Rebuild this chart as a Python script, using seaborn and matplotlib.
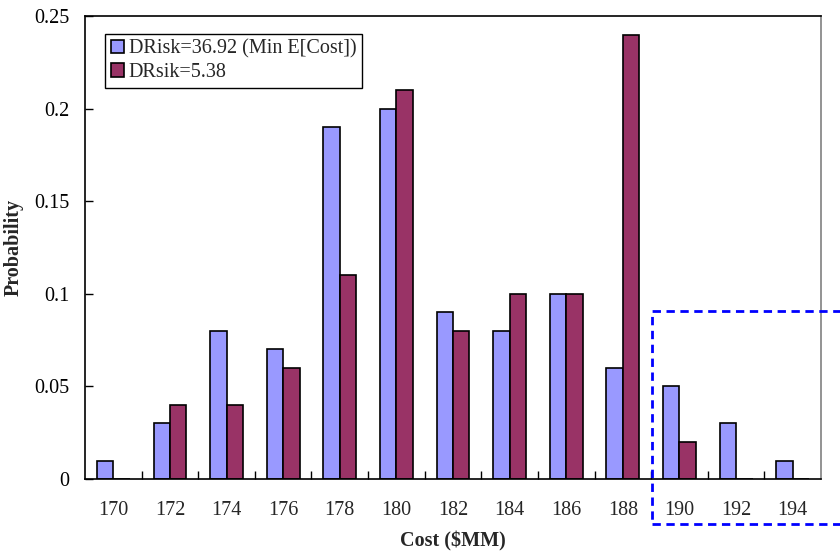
import matplotlib
matplotlib.use("Agg")
import matplotlib.pyplot as plt
import seaborn as sns
import pandas as pd
from matplotlib.ticker import FixedLocator, FuncFormatter
from matplotlib.patches import Rectangle

costs = ["170", "172", "174", "176", "178", "180", "182", "184", "186", "188", "190", "192", "194"]
series_a_name = "DRisk=36.92 (Min E[Cost])"
series_b_name = "DRsik=5.38"
series_a = [0.01, 0.03, 0.08, 0.07, 0.19, 0.20, 0.09, 0.08, 0.10, 0.06, 0.05, 0.03, 0.01]
series_b = [0.00, 0.04, 0.04, 0.06, 0.11, 0.21, 0.08, 0.10, 0.10, 0.24, 0.02, 0.00, 0.00]
y_ticks = [0, 0.05, 0.1, 0.15, 0.2, 0.25]

df = pd.DataFrame({
    "Cost": costs * 2,
    "Probability": series_a + series_b,
    "Series": [series_a_name] * len(costs) + [series_b_name] * len(costs),
})

sns.set_theme(style="white")
plt.rcParams["font.family"] = ["Liberation Serif", "DejaVu Serif"]

FS = 14.5

fig = plt.figure(figsize=(8.4, 5.52), dpi=100)
ax = fig.add_axes([0.1012, 0.1322, 0.8762, 0.8388])

sns.barplot(data=df, x="Cost", y="Probability", hue="Series", order=costs,
            palette=["#9999FF", "#993366"], width=0.58, gap=0,
            edgecolor="black", linewidth=1.2, saturation=1, ax=ax)

ax.set_xlim(-0.5, len(costs) - 0.5)
ax.set_ylim(0, 0.25)
ax.yaxis.set_major_locator(FixedLocator(y_ticks))
ax.yaxis.set_major_formatter(FuncFormatter(lambda v, p: f"{v:g}"))
ax.tick_params(axis="y", direction="in", length=6, width=1, colors="black",
               labelsize=FS, pad=11, left=True)
ax.tick_params(axis="x", which="major", length=0, labelsize=FS, pad=16)
ax.xaxis.set_minor_locator(FixedLocator([i + 0.5 for i in range(len(costs) - 1)]))
ax.tick_params(axis="x", which="minor", direction="in", length=6, width=1,
               color="black", bottom=True)

for s in ["left", "bottom", "top"]:
    ax.spines[s].set_color("black")
    ax.spines[s].set_linewidth(1.2)
ax.spines["right"].set_color("#808080")
ax.spines["right"].set_linewidth(1.2)

ax.set_xlabel("Cost (\\$MM)", fontsize=FS, fontweight="bold", labelpad=8)
ax.set_ylabel("Probability", fontsize=FS, fontweight="bold", labelpad=8)

leg = ax.legend(loc="upper left", bbox_to_anchor=(0.027, 0.962), fontsize=FS,
                frameon=True, fancybox=False, shadow=False,
                handlelength=0.65, handleheight=0.65, handletextpad=0.25,
                borderpad=0.28, labelspacing=0.22, borderaxespad=0)
leg.get_frame().set_edgecolor("black")
leg.get_frame().set_linewidth(1.0)
leg.get_frame().set_facecolor("white")
leg.get_frame().set_alpha(1)
leg.set_title(None)

rect = Rectangle((652 / 840, 1 - 524 / 552), 0.3, (524 - 311) / 552,
                 transform=fig.transFigure, fill=False, edgecolor="#0000FF",
                 linewidth=2, linestyle=(0, (3, 2)), clip_on=False)
fig.patches.append(rect)

fig.savefig("out.png", dpi=100)
